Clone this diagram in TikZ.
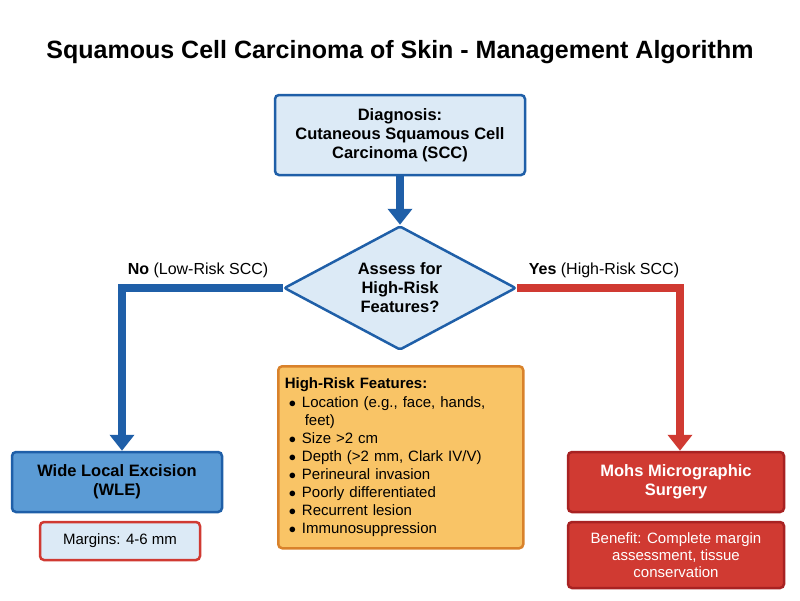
\documentclass[tikz,border=0pt]{standalone}
\usepackage{fontspec}
\setmainfont{Liberation Sans}
\usetikzlibrary{shapes.geometric, arrows.meta, positioning}
\definecolor{blueln}{HTML}{1F5FA8}
\definecolor{bluefill}{HTML}{DCEAF6}
\definecolor{bluemid}{HTML}{5B9BD5}
\definecolor{redln}{HTML}{D03A32}
\definecolor{reddark}{HTML}{A82222}
\definecolor{orangefill}{HTML}{F9C466}
\definecolor{orangeln}{HTML}{D9822B}
\begin{document}
\begin{tikzpicture}[
        x = 1pt, y = -1pt,
        > = {Triangle[length=16pt,width=24pt]},
        flow/.style = {line width=8pt},
        box/.style = {draw, line width=2.5pt, rounded corners=4pt, align=center,
            font=\fontsize{16.5}{19}\selectfont\bfseries},
    ]
    \useasboundingbox (0,0) rectangle (800,600);

    \node[font=\fontsize{25}{29}\selectfont\bfseries] (title) at (400,52)
        {Squamous Cell Carcinoma of Skin - Management Algorithm};

    \node[box, draw=blueln, fill=bluefill, minimum width=250pt, minimum height=80pt]
        (diag) at (400,135) {Diagnosis:\\Cutaneous Squamous Cell\\Carcinoma (SCC)};
    \node[box, diamond, rounded corners=2pt, aspect=1.85, inner sep=0pt, draw=blueln,
        fill=bluefill, minimum width=232pt, minimum height=124pt]
        (assess) at (400,288) {Assess for\\High-Risk\\Features?};

    \node[box, draw=blueln, fill=bluemid, minimum width=210pt, minimum height=60pt]
        (wle) at (117,482) {Wide Local Excision\\(WLE)};
    \node[box, draw=redln, fill=bluefill, font=\fontsize{15}{17}\selectfont,
        minimum width=160pt, minimum height=38pt] (marg) at (120,541) {Margins: 4-6 mm};

    \node[box, draw=reddark, fill=redln, text=white, minimum width=216pt,
        minimum height=60pt] (mohs) at (676,482) {Mohs Micrographic\\Surgery};
    \node[box, draw=reddark, fill=redln, text=white, font=\fontsize{15}{17}\selectfont,
        minimum width=216pt, minimum height=66pt] (ben) at (676,555)
        {Benefit: Complete margin\\assessment, tissue\\conservation};

    \node[box, draw=orangeln, fill=orangefill, align=left, anchor=north west,
        minimum width=245pt, minimum height=182pt, text width=232pt,
        font=\fontsize{15}{18}\selectfont] (feat) at (277,365)
        {\textbf{High-Risk Features:}\\[1pt]
         \mdseries\hspace*{4pt}$\bullet$\hspace{6pt}Location (e.g., face, hands,\\
         \hspace*{20pt}feet)\\
         \hspace*{4pt}$\bullet$\hspace{6pt}Size >2 cm\\
         \hspace*{4pt}$\bullet$\hspace{6pt}Depth (>2 mm, Clark IV/V)\\
         \hspace*{4pt}$\bullet$\hspace{6pt}Perineural invasion\\
         \hspace*{4pt}$\bullet$\hspace{6pt}Poorly differentiated\\
         \hspace*{4pt}$\bullet$\hspace{6pt}Recurrent lesion\\
         \hspace*{4pt}$\bullet$\hspace{6pt}Immunosuppression};

    \coordinate (lc) at (122,288);
    \coordinate (rc) at (680,288);
    \draw[flow, blueln, ->] (diag.south) -- (assess.north);
    \draw[flow, blueln, ->] (assess.west) -- (lc) -- (lc |- wle.north);
    \draw[flow, redln, ->] (assess.east) -- (rc) -- (rc |- mohs.north);

    \node[font=\fontsize{16}{18}\selectfont] (no) at (198,270) {\textbf{No} (Low-Risk SCC)};
    \node[font=\fontsize{16}{18}\selectfont] (yes) at (604,270) {\textbf{Yes} (High-Risk SCC)};
\end{tikzpicture}
\end{document}
